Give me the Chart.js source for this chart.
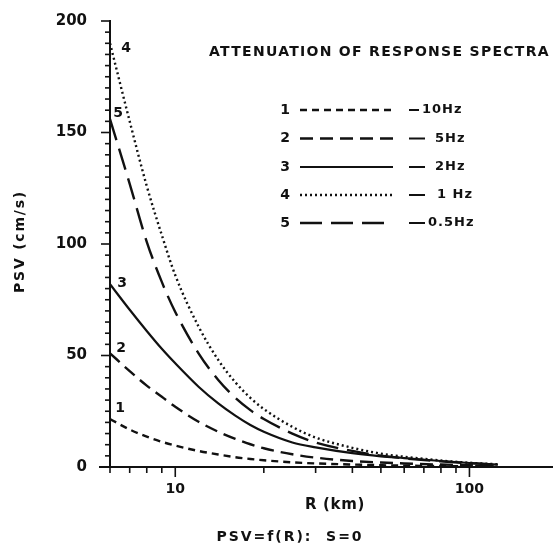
<!DOCTYPE html>
<html><head><meta charset="utf-8">
<script src="https://cdn.jsdelivr.net/npm/chart.js@4.4.1/dist/chart.umd.min.js"></script>
<style>
html,body{margin:0;padding:0;background:#fff;overflow:hidden;width:553px;height:546px}
#wrap{width:553px;height:546px;overflow:hidden;position:relative;background:#fff}
canvas{display:block}
</style></head>
<body><div id="wrap"><canvas id="c" width="580" height="546" style="width:580px;height:546px"></canvas></div>
<script>
// ---- data ----
const distances = [6, 7, 8, 9, 10, 12, 14, 16, 18, 20, 25, 30, 40, 50, 60, 80, 100, 125];
const psv10Hz  = [21.5, 16.8, 13.6, 11.3, 9.6, 7.2, 5.6, 4.4, 3.6, 3.0, 2.1, 1.6, 1.1, 0.8, 0.6, 0.45, 0.35, 0.25];
const psv5Hz   = [51, 43, 36.5, 31.5, 27, 20.3, 15.8, 12.6, 10.2, 8.4, 5.7, 4.2, 2.7, 2.0, 1.6, 1.1, 0.8, 0.5];
const psv2Hz   = [82, 70.5, 61, 53, 46.5, 36, 28.5, 23, 18.8, 15.8, 11, 8.8, 6.2, 4.8, 4.0, 2.7, 1.8, 1.1];
const psv1Hz   = [190, 155, 126, 104, 86, 63, 48, 38, 31, 26, 18, 13.2, 8.6, 6.0, 4.6, 2.9, 1.9, 1.2];
const psv05Hz  = [156, 127, 101, 83, 69.5, 51, 39, 31, 25.5, 21.5, 15, 11, 7.2, 5.1, 3.9, 2.5, 1.7, 1.1];
const seriesNumbers = ['1', '2', '3', '4', '5'];
const seriesLabels  = ['10Hz', '5Hz', '2Hz', '1 Hz', '0.5Hz'];
const yTickLabels = [0, 50, 100, 150, 200];
const xTickLabels = [10, 100];
const xMinorTicks = [6, 7, 8, 9, 10, 20, 30, 40, 50, 60, 70, 80, 90, 100];
const chartTitle = 'ATTENUATION OF RESPONSE SPECTRA';
const yTitle = 'PSV (cm/s)';
const xTitle = 'R (km)';
const caption = 'PSV=f(R):  S=0';

// ---- styles / layout ----
const INK = '#111';
const FONT = '"DejaVu Sans", "Liberation Sans", sans-serif';
const dashes = [[7, 5], [13, 7], [], [2, 3], [22, 9]];
const widths = [2.4, 2.4, 2.2, 2.4, 2.4];
const numOffsets = [[10, -11], [11, -5], [12, -1], [16, 5], [8, -6]];
const AREA = { left: 110, right: 558, top: 21, bottom: 467 };

const allSeries = [psv10Hz, psv5Hz, psv2Hz, psv1Hz, psv05Hz];
const datasets = allSeries.map((vals, i) => ({
  label: seriesNumbers[i] + ' ' + seriesLabels[i],
  data: distances.map((r, k) => ({x: r, y: vals[k]})),
  borderColor: INK,
  borderWidth: widths[i],
  borderDash: dashes[i],
  pointRadius: 0,
  fill: false,
  cubicInterpolationMode: 'monotone'
}));

function spacedText(ctx, text, x, y, width, align) {
  ctx.letterSpacing = '0px';
  const w = ctx.measureText(text).width;
  const n = [...text].length;
  const sp = (width - w) / n;
  ctx.letterSpacing = sp.toFixed(2) + 'px';
  ctx.textAlign = 'left';
  const sx = align === 'center' ? x - width / 2 : x;
  ctx.fillText(text, sx, y);
  ctx.letterSpacing = '0px';
}

const decor = {
  id: 'decor',
  afterDraw(chart) {
    const ctx = chart.ctx;
    const xs = chart.scales.x, ys = chart.scales.y;
    const ca = chart.chartArea;
    ctx.save();
    ctx.strokeStyle = INK;
    ctx.fillStyle = INK;
    ctx.lineCap = 'butt';
    // y ticks
    ctx.lineWidth = 1.6;
    for (let v = 0; v <= 200; v += 5) {
      const py = ys.getPixelForValue(v);
      const len = (v % 50 === 0) ? 9 : 5;
      ctx.beginPath(); ctx.moveTo(ca.left - len, py); ctx.lineTo(ca.left, py); ctx.stroke();
    }
    // x ticks
    for (const v of xMinorTicks) {
      const px = xs.getPixelForValue(v);
      const len = xTickLabels.includes(v) ? 10 : 6;
      ctx.beginPath(); ctx.moveTo(px, ca.bottom); ctx.lineTo(px, ca.bottom + len); ctx.stroke();
    }
    // x-axis line extension left of the y axis
    ctx.lineWidth = 2;
    ctx.beginPath(); ctx.moveTo(ca.left - 11, ca.bottom); ctx.lineTo(ca.left, ca.bottom); ctx.stroke();

    // curve numbers near start points
    ctx.font = 'bold 14px ' + FONT;
    ctx.textBaseline = 'middle';
    ctx.textAlign = 'center';
    allSeries.forEach((vals, i) => {
      const px = xs.getPixelForValue(distances[0]) + numOffsets[i][0];
      const py = ys.getPixelForValue(vals[0]) + numOffsets[i][1];
      ctx.fillText(seriesNumbers[i], px, py);
    });

    // title
    ctx.font = 'bold 14px ' + FONT;
    spacedText(ctx, chartTitle, 209, 52, 341, 'left');

    // legend
    const rowY = [110, 138.5, 167, 195, 223];
    const labelX = [422, 435, 435, 437, 428];
    allSeries.forEach((vals, i) => {
      const y = rowY[i];
      ctx.font = 'bold 14px ' + FONT;
      ctx.textAlign = 'center';
      ctx.fillText(seriesNumbers[i], 285, y);
      ctx.lineWidth = widths[i];
      ctx.setLineDash(dashes[i]);
      ctx.beginPath(); ctx.moveTo(300, y); ctx.lineTo(393, y); ctx.stroke();
      ctx.setLineDash([]);
      ctx.lineWidth = 2;
      ctx.beginPath(); ctx.moveTo(409, y); ctx.lineTo(i === 0 ? 419 : 425, y); ctx.stroke();
      ctx.font = 'bold 13px ' + FONT;
      ctx.textAlign = 'left';
      ctx.letterSpacing = '1px';
      ctx.fillText(seriesLabels[i], labelX[i], y);
      ctx.letterSpacing = '0px';
    });

    // axis titles
    ctx.font = 'bold 14px ' + FONT;
    ctx.save();
    ctx.translate(20, 241.5);
    ctx.rotate(-Math.PI / 2);
    spacedText(ctx, yTitle, 0, 0, 103, 'center');
    ctx.restore();
    ctx.font = 'bold 15px ' + FONT;
    spacedText(ctx, xTitle, 335, 505, 60, 'center');
    // caption
    ctx.font = 'bold 14px ' + FONT;
    spacedText(ctx, caption, 290, 537, 147, 'center');
    ctx.restore();
  }
};

const chart = new Chart(document.getElementById('c'), {
  type: 'line',
  data: { datasets },
  options: {
    responsive: false,
    animation: false,
    events: [],
    layout: { autoPadding: false, padding: { left: 0, right: 22, top: 21, bottom: 0 } },
    plugins: { legend: { display: false }, tooltip: { enabled: false }, title: { display: false } },
    scales: {
      x: {
        type: 'logarithmic',
        min: 6, max: 200,
        grid: { display: false },
        border: { display: true, color: INK, width: 2 },
        ticks: {
          autoSkip: false, maxRotation: 0, padding: 6, color: INK,
          font: { family: FONT, size: 14, weight: 'bold' },
          callback: (v) => xTickLabels.some(t => Math.abs(t - v) < 1e-6) ? String(v) : ''
        },
        afterFit: (s) => { s.height = 546 - AREA.bottom; s.paddingLeft = 0; s.paddingRight = 0; }
      },
      y: {
        type: 'linear',
        min: 0, max: 200,
        grid: { display: false },
        border: { display: true, color: INK, width: 2 },
        ticks: {
          stepSize: 5, autoSkip: false, padding: 15, color: INK,
          font: { family: FONT, size: 15, weight: 'bold' },
          callback: (v) => yTickLabels.includes(v) ? String(v) : ''
        },
        afterFit: (s) => { s.width = AREA.left; s.paddingTop = 0; s.paddingBottom = 0; }
      }
    }
  },
  plugins: [decor]
});

// make the plot area land exactly where the reference has it
(function fitArea() {
  const ca = chart.chartArea;
  const pad = chart.options.layout.padding;
  chart.options.layout.padding = {
    left: pad.left,
    bottom: pad.bottom,
    top: Math.max(0, pad.top + (AREA.top - ca.top)),
    right: Math.max(0, pad.right + (ca.right - AREA.right))
  };
  chart.update();
})();
</script>
</body></html>
